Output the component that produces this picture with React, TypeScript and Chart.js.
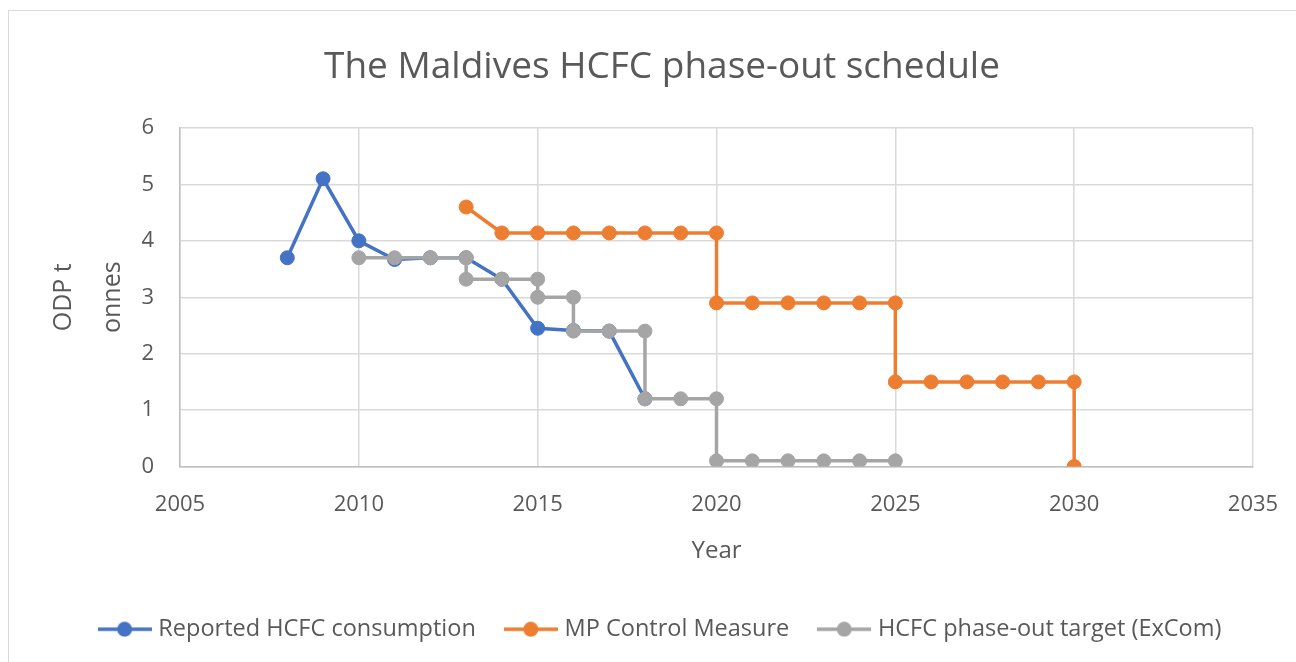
import React, { useEffect, useRef } from "react";
import { Chart, registerables } from "chart.js";

Chart.register(...registerables);

const TITLE = "The Maldives HCFC phase-out schedule";
const X_TITLE = "Year";
const Y_TITLE = ["ODP t", "onnes"];

const reportedYears = [2008, 2009, 2010, 2011, 2012, 2013, 2014, 2015, 2016, 2017, 2018];
const reportedValues = [3.7, 5.1, 4.0, 3.67, 3.7, 3.7, 3.32, 2.45, 2.41, 2.4, 1.2];

const mpYears = [2013, 2014, 2015, 2016, 2017, 2018, 2019, 2020, 2020, 2021, 2022, 2023, 2024, 2025, 2025, 2026, 2027, 2028, 2029, 2030, 2030];
const mpValues = [4.6, 4.14, 4.14, 4.14, 4.14, 4.14, 4.14, 4.14, 2.9, 2.9, 2.9, 2.9, 2.9, 2.9, 1.5, 1.5, 1.5, 1.5, 1.5, 1.5, 0];

const excomYears = [2010, 2011, 2012, 2013, 2013, 2014, 2015, 2015, 2016, 2016, 2017, 2018, 2018, 2019, 2020, 2020, 2021, 2022, 2023, 2024, 2025];
const excomValues = [3.7, 3.7, 3.7, 3.7, 3.32, 3.32, 3.32, 3.0, 3.0, 2.4, 2.4, 2.4, 1.2, 1.2, 1.2, 0.1, 0.1, 0.1, 0.1, 0.1, 0.1];

const seriesNames = ["Reported HCFC consumption", "MP Control Measure", "HCFC phase-out target (ExCom)"];
const seriesColors = ["#4472C4", "#ED7D31", "#A5A5A5"];

const FONT = "'Open Sans', 'Noto Sans', sans-serif";
const TEXT = "#595959";

function legendIcon(color: string): HTMLCanvasElement {
  const c = document.createElement("canvas");
  c.width = 54;
  c.height = 16;
  const ctx = c.getContext("2d")!;
  ctx.strokeStyle = color;
  ctx.lineWidth = 3.5;
  ctx.beginPath();
  ctx.moveTo(0, 8);
  ctx.lineTo(54, 8);
  ctx.stroke();
  ctx.fillStyle = color;
  ctx.beginPath();
  ctx.arc(27, 8, 7.5, 0, Math.PI * 2);
  ctx.fill();
  return c;
}

function toPoints(xs: number[], ys: number[]) {
  return xs.map((x, i) => ({ x, y: ys[i] }));
}

export default function App() {
  const ref = useRef<HTMLCanvasElement | null>(null);

  useEffect(() => {
    if (!ref.current) return;
    const icons = seriesColors.map(legendIcon);
    const mk = (i: number, xs: number[], ys: number[], order: number) => ({
      label: seriesNames[i],
      data: toPoints(xs, ys),
      borderColor: seriesColors[i],
      backgroundColor: seriesColors[i],
      pointBackgroundColor: seriesColors[i],
      pointBorderColor: seriesColors[i],
      borderWidth: 3.5,
      pointRadius: 7,
      pointBorderWidth: 1,
      pointStyle: "circle" as any,
      tension: 0,
      order,
    });
    const chart = new Chart(ref.current, {
      type: "line",
      data: {
        datasets: [
          mk(0, reportedYears, reportedValues, 3),
          mk(1, mpYears, mpValues, 2),
          mk(2, excomYears, excomValues, 1),
        ] as any,
      },
      options: {
        responsive: false,
        animation: false,
        devicePixelRatio: 1,
        layout: { padding: { left: 28, right: 0, top: 0, bottom: 11 } },
        plugins: {
          tooltip: { enabled: false },
          title: {
            display: true,
            text: TITLE,
            color: TEXT,
            font: { family: FONT, size: 37, weight: "normal" as any, lineHeight: 1.2 },
            padding: { top: 45, bottom: 38.6 },
          },
          legend: {
            display: true,
            position: "bottom",
            labels: {
              color: TEXT,
              font: { family: FONT, size: 23.5 },
              usePointStyle: true,
              pointStyleWidth: 44,
              padding: 33,
              sort: (a: any, b: any) => a.datasetIndex - b.datasetIndex,
              generateLabels: (ch: any) =>
                ch.data.datasets.map((ds: any, i: number) => ({
                  text: ds.label,
                  fillStyle: ds.borderColor,
                  strokeStyle: ds.borderColor,
                  lineWidth: 0,
                  pointStyle: icons[i],
                  hidden: false,
                  datasetIndex: i,
                  fontColor: TEXT,
                })),
            },
          },
        },
        scales: {
          x: {
            type: "linear",
            min: 2005,
            max: 2035,
            ticks: {
              stepSize: 5,
              color: TEXT,
              font: { family: FONT, size: 22, lineHeight: 56 / 22 },
              padding: 10,
              callback: (v: any) => String(v),
            },
            grid: { color: "#D9D9D9", lineWidth: 1.5, drawTicks: false },
            border: { color: "#BFBFBF", width: 1.5 },
            title: {
              display: true,
              text: X_TITLE,
              color: TEXT,
              font: { family: FONT, size: 24 },
              padding: { top: 0, bottom: 18.6 },
            },
            afterFit: (s: any) => {
              s.height = 118;
            },
          },
          y: {
            type: "linear",
            min: 0,
            max: 6,
            ticks: {
              stepSize: 1,
              color: TEXT,
              font: { family: FONT, size: 22 },
              padding: 26,
            },
            grid: { color: "#D9D9D9", lineWidth: 1.5, drawTicks: false },
            border: { color: "#BFBFBF", width: 1.5 },
            title: {
              display: true,
              text: Y_TITLE,
              color: TEXT,
              font: { family: FONT, size: 25, lineHeight: 49 / 25 },
              padding: { top: 11, bottom: 0 },
            },
            afterFit: (s: any) => {
              s.width = 152;
            },
          },
          yRight: {
            type: "linear",
            position: "right",
            display: true,
            min: 0,
            max: 6,
            ticks: { display: false },
            grid: { display: false, drawTicks: false },
            border: { display: false },
            afterFit: (s: any) => {
              s.width = 43;
            },
          },
        },
      },
    });
    return () => chart.destroy();
  }, []);

  return (
    <div style={{ position: "fixed", left: 0, top: 0, width: 1296, height: 662, background: "#fff", overflow: "hidden" }}>
      <div
        style={{
          position: "absolute",
          left: 8,
          top: 10,
          width: 1320,
          height: 700,
          border: "1px solid #D9D9D9",
          boxSizing: "border-box",
        }}
      />
      <canvas ref={ref} width={1296} height={662} style={{ position: "absolute", left: 0, top: 0 }} />
    </div>
  );
}
